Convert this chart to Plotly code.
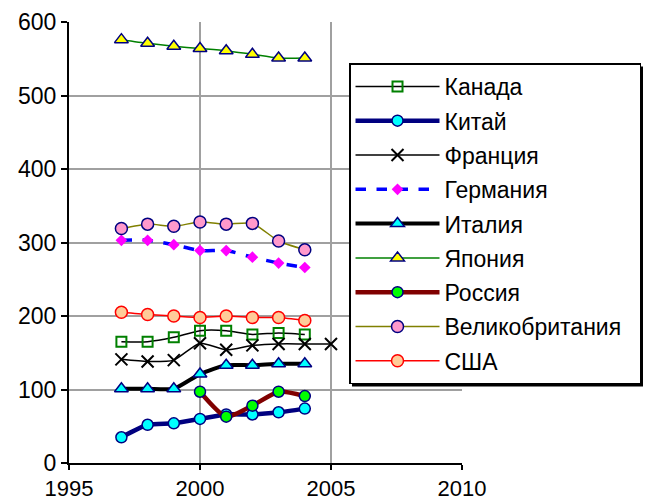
import plotly.graph_objects as go

years = [1997, 1998, 1999, 2000, 2001, 2002, 2003, 2004]
years_fr = [1997, 1998, 1999, 2000, 2001, 2002, 2003, 2004, 2005]
years_ru = [2000, 2001, 2002, 2003, 2004]

canada = [165, 165, 171, 180, 180, 175, 177, 175]
china = [35, 52, 54, 60, 66, 66, 69, 74]
france = [141, 138, 140, 163, 154, 160, 162, 162, 162]
germany = [303, 303, 297, 289, 289, 280, 272, 266]
italy = [101, 101, 101, 121, 133, 133, 135, 135]
japan = [576, 571, 567, 564, 561, 556, 551, 551]
russia = [97, 63, 78, 97, 91]
uk = [319, 325, 322, 328, 325, 326, 302, 290]
usa = [205, 202, 200, 198, 200, 198, 198, 194]

fig = go.Figure()

def add(name, x, y, line, marker, gi):
    fig.add_trace(go.Scatter(
        x=x, y=y, name=name, mode='lines+markers',
        line=dict(shape='spline', smoothing=0.6, **line),
        marker=marker, legendgroup='g%d' % gi,
    ))

add('Канада', years, canada, dict(color='black', width=1.5),
    dict(symbol='square-open', size=10, color='green', line=dict(width=2, color='green')), 0)
add('Китай', years, china, dict(color='#000080', width=4.5),
    dict(symbol='circle', size=11, color='cyan', line=dict(width=1.5, color='#000080')), 1)
add('Франция', years_fr, france, dict(color='black', width=1.5),
    dict(symbol='x-thin', size=12, color='black', line=dict(width=2, color='black')), 2)
add('Германия', years, germany, dict(color='blue', width=3.5, dash='dash'),
    dict(symbol='diamond', size=9, color='magenta', line=dict(width=0)), 3)
add('Италия', years, italy, dict(color='black', width=4),
    dict(symbol='triangle-up', size=12, color='cyan', line=dict(width=1.5, color='#000080')), 4)
add('Япония', years, japan, dict(color='green', width=1.5),
    dict(symbol='triangle-up', size=12, color='yellow', line=dict(width=1.5, color='#000080')), 5)
add('Россия', years_ru, russia, dict(color='#800000', width=4.5),
    dict(symbol='circle', size=11, color='#00ff00', line=dict(width=1.5, color='#000080')), 6)
add('Великобритания\u00a0\u00a0', years, uk, dict(color='#808000', width=1.5),
    dict(symbol='circle', size=12, color='#ff99cc', line=dict(width=1.5, color='#000080')), 7)
add('США', years, usa, dict(color='red', width=1.5),
    dict(symbol='circle', size=12, color='#ffcc99', line=dict(width=1.5, color='red')), 8)

# legend drop shadow (Excel style)
px_x = 1 / 393
px_y = 1 / 441
leg_x, leg_y = 0.7125, 0.906
fig.add_shape(type='rect', xref='paper', yref='paper',
              x0=leg_x + 3 * px_x, x1=1.468 + 2.5 * px_x,
              y0=0.179 - 2.5 * px_y, y1=leg_y - 3 * px_y,
              fillcolor='black', line_width=0, layer='above')

fig.update_layout(
    width=651, height=500,
    margin=dict(l=61, r=197, t=14, b=45, autoexpand=False),
    plot_bgcolor='white', paper_bgcolor='white',
    font=dict(family='Liberation Sans, Arial', size=23, color='black'),
    xaxis=dict(range=[1995, 2010], dtick=5, tick0=1995, showgrid=True,
               gridcolor='#a0a0a0', gridwidth=2, showline=True, linecolor='black',
               linewidth=2, ticks='outside', ticklen=5, tickwidth=2, tickcolor='black',
               zeroline=False, automargin=False, tickfont=dict(size=22)),
    yaxis=dict(range=[0, 600], dtick=100, showgrid=True, gridcolor='#a0a0a0',
               gridwidth=2, showline=True, linecolor='black', linewidth=2,
               ticks='outside', ticklen=6, tickwidth=2, tickcolor='black',
               zeroline=False, automargin=False),
    legend=dict(x=leg_x, y=leg_y, xanchor='left', yanchor='top',
                bgcolor='white', bordercolor='black', borderwidth=1.5,
                font=dict(size=23), itemwidth=84, tracegroupgap=1.4),
    showlegend=True,
)

fig.write_html("out.html")
